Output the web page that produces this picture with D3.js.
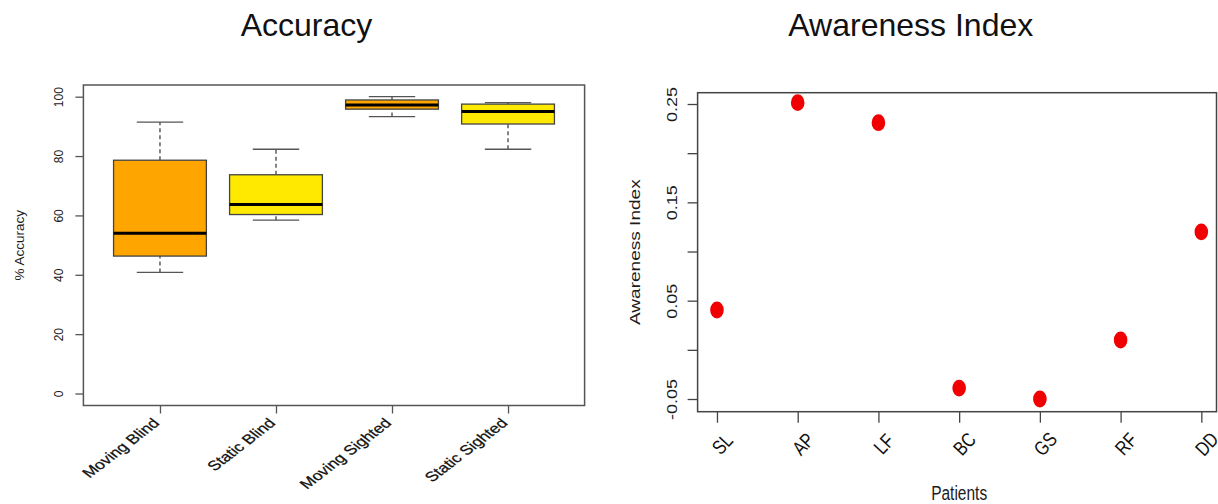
<!DOCTYPE html>
<html>
<head>
<meta charset="utf-8">
<script src="https://cdn.jsdelivr.net/npm/d3@7"></script>
<style>
body{margin:0;background:#fff;}
svg{display:block;font-family:"Liberation Sans",Arial,sans-serif;}
</style>
</head>
<body>
<svg id="chart" width="1218" height="504"></svg>
<script>
// ---- accuracy boxplot (left)
var groups = ["Moving Blind", "Static Blind", "Moving Sighted", "Static Sighted"];
var groupColors = ["#FFA500", "#FFE900", "#FFA500", "#FFE900"];
var whiskerLow = [40.8, 58.4, 93.3, 82.3];
var q1 = [46.3, 60.3, 95.8, 90.8];
var medians = [54.0, 63.7, 97.2, 95.0];
var q3 = [78.6, 73.7, 98.9, 97.5];
var whiskerHigh = [91.4, 82.3, 100, 98.0];
var accuracyTicks = [0, 20, 40, 60, 80, 100];

// ---- awareness index (right)
var patients = ["SL", "AP", "LF", "BC", "GS", "RF", "DD"];
var awareness = [0.0405, 0.2514, 0.2310, -0.0389, -0.0500, 0.0100, 0.1200];
var awarenessTicks = [-0.05, 0, 0.05, 0.10, 0.15, 0.20, 0.25];
var awarenessLabels = ["-0.05", "", "0.05", "", "0.15", "", "0.25"];

var svg = d3.select("#chart");
var TEXT = "#1c1c1c";

function cleanAxis(g, tickColor){
	g.attr("font-size", null).attr("font-family", null);
	g.select(".domain").remove();
	g.selectAll(".tick line").attr("stroke", tickColor).attr("stroke-width", 1.3);
	g.selectAll(".tick text").attr("x", null).attr("y", null).attr("dy", null).attr("fill", TEXT);
}

/////////////////////// left panel

var xA = d3.scaleLinear().domain([0.34, 4.66]).range([83.4, 584.6]);
var yA = d3.scaleLinear().domain([-4.04, 103.94]).range([405.5, 85]);
var boxW = 0.8, capW = 0.4;

svg.append("text")
	.attr("x", 306.5).attr("y", 36)
	.attr("text-anchor", "middle")
	.attr("font-size", 32)
	.attr("fill", "#111")
	.text("Accuracy");

var gyA = svg.append("g")
	.attr("transform", "translate(" + xA.range()[0] + ",0)")
	.call(d3.axisLeft(yA).tickValues(accuracyTicks).tickSize(8).tickPadding(0));
cleanAxis(gyA, "#555");
gyA.selectAll(".tick text")
	.attr("text-anchor", "middle")
	.attr("font-size", 12)
	.attr("transform", "translate(-20,0) rotate(-90)");

var gxA = svg.append("g")
	.attr("transform", "translate(0," + yA.range()[0] + ")")
	.call(d3.axisBottom(xA).tickValues([1, 2, 3, 4]).tickSize(8)
		.tickFormat(function(d, i){ return groups[i]; }));
cleanAxis(gxA, "#555");
gxA.selectAll(".tick text")
	.attr("text-anchor", "end")
	.attr("font-size", 13.5)
	.attr("fill", "#111")
	.attr("stroke", "#111").attr("stroke-width", 0.25)
	.attr("transform", "translate(0,18.5) scale(1.3,1) rotate(-45)");

svg.append("text")
	.attr("transform", "translate(24," + ((yA.range()[0] + yA.range()[1]) / 2) + ") rotate(-90)")
	.attr("text-anchor", "middle")
	.attr("font-size", 13.5)
	.attr("fill", TEXT)
	.text("% Accuracy");

// boxes
var boxG = svg.append("g");
groups.forEach(function(name, i){
	var cx = xA(i + 1);
	// whiskers
	boxG.append("line")
		.attr("x1", cx).attr("x2", cx)
		.attr("y1", yA(whiskerLow[i])).attr("y2", yA(q1[i]))
		.attr("stroke", "#444").attr("stroke-width", 1.3).attr("stroke-dasharray", "4,3");
	boxG.append("line")
		.attr("x1", cx).attr("x2", cx)
		.attr("y1", yA(q3[i])).attr("y2", yA(whiskerHigh[i]))
		.attr("stroke", "#444").attr("stroke-width", 1.3).attr("stroke-dasharray", "4,3");
	[whiskerLow[i], whiskerHigh[i]].forEach(function(v){
		boxG.append("line")
			.attr("x1", xA(i + 1 - capW / 2)).attr("x2", xA(i + 1 + capW / 2))
			.attr("y1", yA(v)).attr("y2", yA(v))
			.attr("stroke", "#555").attr("stroke-width", 1.3);
	});
	boxG.append("rect")
		.attr("x", xA(i + 1 - boxW / 2))
		.attr("y", yA(q3[i]))
		.attr("width", xA(i + 1 + boxW / 2) - xA(i + 1 - boxW / 2))
		.attr("height", yA(q1[i]) - yA(q3[i]))
		.attr("fill", groupColors[i])
		.attr("stroke", "#444").attr("stroke-width", 1.3);
	boxG.append("line")
		.attr("x1", xA(i + 1 - boxW / 2)).attr("x2", xA(i + 1 + boxW / 2))
		.attr("y1", yA(medians[i])).attr("y2", yA(medians[i]))
		.attr("stroke", "#000").attr("stroke-width", 3);
});

svg.append("rect")
	.attr("x", xA.range()[0]).attr("y", yA.range()[1])
	.attr("width", xA.range()[1] - xA.range()[0])
	.attr("height", yA.range()[0] - yA.range()[1])
	.attr("fill", "none").attr("stroke", "#555").attr("stroke-width", 1.5);

/////////////////////// right panel

var xB = d3.scaleLinear().domain([0.76, 7.24]).range([697.6, 1220.7]);
var yB = d3.scaleLinear().domain([-0.0629, 0.2615]).range([411.7, 92.7]);
var boxRight = 1216.5;

svg.append("text")
	.attr("x", 910.8).attr("y", 36)
	.attr("text-anchor", "middle")
	.attr("font-size", 32)
	.attr("fill", "#111")
	.text("Awareness Index");

var gyB = svg.append("g")
	.attr("transform", "translate(" + xB.range()[0] + ",0)")
	.call(d3.axisLeft(yB).tickValues(awarenessTicks).tickSize(10).tickPadding(0)
		.tickFormat(function(d, i){ return awarenessLabels[i]; }));
cleanAxis(gyB, "#444");
gyB.selectAll(".tick text")
	.attr("text-anchor", "middle")
	.attr("font-size", 15)
	.attr("transform", "translate(-21,0) scale(1,1.2) rotate(-90)");

var gxB = svg.append("g")
	.attr("transform", "translate(0," + yB.range()[0] + ")")
	.call(d3.axisBottom(xB).tickValues(d3.range(1, patients.length + 1)).tickSize(11)
		.tickFormat(function(d, i){ return patients[i]; }));
cleanAxis(gxB, "#444");
gxB.selectAll(".tick text")
	.attr("text-anchor", "middle")
	.attr("font-size", 16)
	.attr("fill", "#111")
	.attr("transform", "translate(10,37) rotate(-47) scale(1,1.25)");

svg.append("text")
	.attr("transform", "translate(640," + ((yB.range()[0] + yB.range()[1]) / 2) + ") scale(1,1.23) rotate(-90)")
	.attr("text-anchor", "middle")
	.attr("font-size", 15.5)
	.attr("fill", TEXT)
	.text("Awareness Index");

svg.append("text")
	.attr("transform", "translate(" + ((xB.range()[0] + xB.range()[1]) / 2) + ",500) scale(1,1.25)")
	.attr("text-anchor", "middle")
	.attr("font-size", 15.5)
	.attr("fill", TEXT)
	.text("Patients");

svg.append("g").selectAll("ellipse")
	.data(awareness)
	.enter().append("ellipse")
	.attr("cx", function(d, i){ return xB(i + 1); })
	.attr("cy", function(d){ return yB(d); })
	.attr("rx", 6.8).attr("ry", 8.4)
	.attr("fill", "#F00000");

svg.append("rect")
	.attr("x", xB.range()[0]).attr("y", yB.range()[1])
	.attr("width", boxRight - xB.range()[0])
	.attr("height", yB.range()[0] - yB.range()[1])
	.attr("fill", "none").attr("stroke", "#444").attr("stroke-width", 1.5);
</script>
</body>
</html>
